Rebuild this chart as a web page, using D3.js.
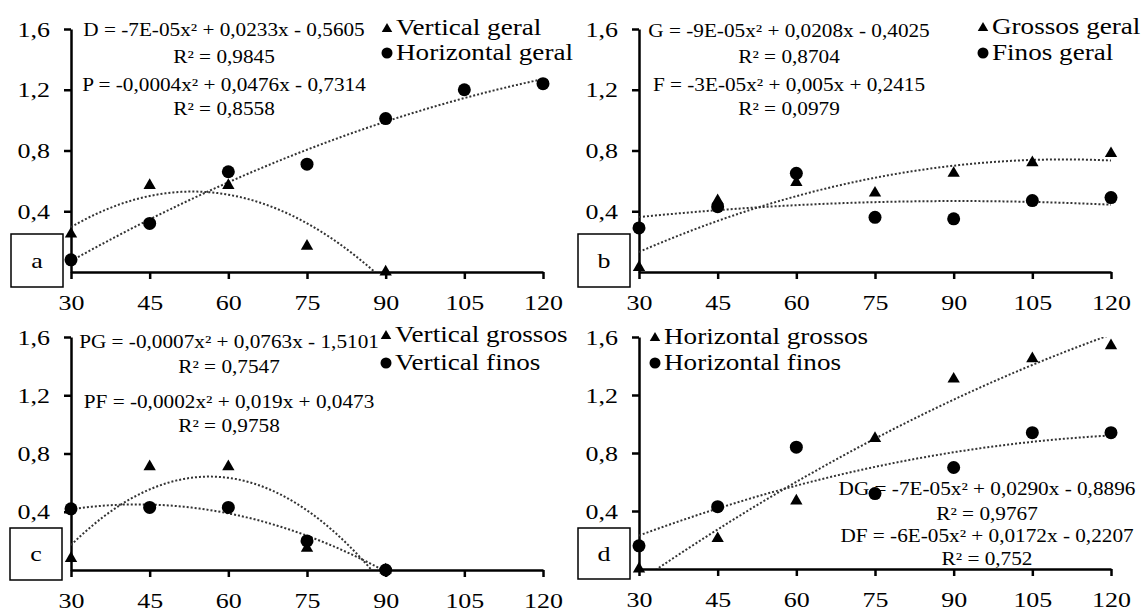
<!DOCTYPE html>
<html>
<head>
<meta charset="utf-8">
<script src="https://cdn.jsdelivr.net/npm/d3@7"></script>
<style>
  body { margin: 0; background: #fff; }
  svg { display: block; font-family: "Liberation Serif", "Times New Roman", "DejaVu Serif", serif; }
</style>
</head>
<body>
<svg id="chart" width="1144" height="612"></svg>
<script>
/* ── data ──────────────────────────────────────────────────── */
const xTicks = [30, 45, 60, 75, 90, 105, 120];
const yTicks = [0.4, 0.8, 1.2, 1.6];
const xShort = [30, 45, 60, 75, 90];
const xLong  = [30, 45, 60, 75, 90, 105, 120];

// a
const verticalGeral   = [0.25, 0.57, 0.57, 0.17, 0.00];
const horizontalGeral = [0.08, 0.32, 0.66, 0.71, 1.01, 1.20, 1.24];
// b
const grossosGeral = [0.03, 0.47, 0.59, 0.52, 0.65, 0.72, 0.78];
const finosGeral   = [0.29, 0.43, 0.65, 0.36, 0.35, 0.47, 0.49];
// c
const verticalGrossos = [0.08, 0.71, 0.71, 0.15, 0.00];
const verticalFinos   = [0.42, 0.43, 0.43, 0.20, 0.00];
// d
const horizontalGrossos = [0.00, 0.21, 0.47, 0.90, 1.31, 1.45, 1.54];
const horizontalFinos   = [0.16, 0.43, 0.84, 0.52, 0.70, 0.94, 0.94];

const eqA = ['D = -7E-05x² + 0,0233x - 0,5605', 'R² = 0,9845',
             'P = -0,0004x² + 0,0476x - 0,7314', 'R² = 0,8558'];
const eqB = ['G = -9E-05x² + 0,0208x - 0,4025', 'R² = 0,8704',
             'F = -3E-05x² + 0,005x + 0,2415', 'R² = 0,0979'];
const eqC = ['PG = -0,0007x² + 0,0763x - 1,5101', 'R² = 0,7547',
             'PF = -0,0002x² + 0,019x + 0,0473', 'R² = 0,9758'];
const eqD = ['DG = -7E-05x² + 0,0290x - 0,8896', 'R² = 0,9767',
             'DF = -6E-05x² + 0,0172x - 0,2207', 'R² = 0,752'];

/* ── layout of the four panels ─────────────────────────────── */
const panels = [
  { id: 'a', x0: 71,  x1: 543,  yb: 272, yt: 29,
    series: [ { name: 'Vertical geral',   shape: 'tri', xs: xShort, ys: verticalGeral },
              { name: 'Horizontal geral', shape: 'dot', xs: xLong,  ys: horizontalGeral } ],
    eq: eqA, eqX: 224, eqY: [36, 63, 91, 115],
    legX: 387, legY: [28, 53], box: [11, 234, 52, 53] },
  { id: 'b', x0: 639, x1: 1111, yb: 272, yt: 29,
    series: [ { name: 'Grossos geral', shape: 'tri', xs: xLong, ys: grossosGeral },
              { name: 'Finos geral',   shape: 'dot', xs: xLong, ys: finosGeral } ],
    eq: eqB, eqX: 789, eqY: [37, 63, 91, 115],
    legX: 983, legY: [27, 53], box: [578, 234, 52, 53] },
  { id: 'c', x0: 71,  x1: 543,  yb: 570, yt: 337,
    series: [ { name: 'Vertical grossos', shape: 'tri', xs: xShort, ys: verticalGrossos },
              { name: 'Vertical finos',   shape: 'dot', xs: xShort, ys: verticalFinos } ],
    eq: eqC, eqX: 229, eqY: [348, 373, 408, 432],
    legX: 386, legY: [335, 363], box: [10, 528, 52, 52] },
  { id: 'd', x0: 639, x1: 1111, yb: 569, yt: 337,
    series: [ { name: 'Horizontal grossos', shape: 'tri', xs: xLong, ys: horizontalGrossos },
              { name: 'Horizontal finos',   shape: 'dot', xs: xLong, ys: horizontalFinos } ],
    eq: eqD, eqX: 987, eqY: [495, 520, 542, 565],
    legX: 655, legY: [337, 363], box: [578, 528, 52, 51] }
];

// the source picture is stretched sideways, so the type is too
const SX = 1.18;

/* least squares 2nd-order fit (what the spreadsheet trendline does) */
function quadFit(xs, ys) {
  const S = k => d3.sum(xs, x => x ** k);
  const T = k => d3.sum(xs, (x, i) => ys[i] * x ** k);
  const m = [[S(4), S(3), S(2), T(2)],
             [S(3), S(2), S(1), T(1)],
             [S(2), S(1), xs.length, T(0)]];
  for (let i = 0; i < 3; i++) {
    for (let j = i + 1; j < 3; j++) {
      const f = m[j][i] / m[i][i];
      for (let k = i; k < 4; k++) m[j][k] -= f * m[i][k];
    }
  }
  const c = [0, 0, 0];
  for (let i = 2; i >= 0; i--) {
    let s = m[i][3];
    for (let k = i + 1; k < 3; k++) s -= m[i][k] * c[k];
    c[i] = s / m[i][i];
  }
  return x => c[0] * x * x + c[1] * x + c[2];
}

// text placed at (x,y) and widened by SX
function putText(sel, x, y) {
  return sel.attr('x', 0).attr('y', 0)
    .attr('transform', `translate(${x},${y}) scale(${SX},1)`);
}

const svg = d3.select('#chart');
svg.append('rect').attr('width', 1144).attr('height', 612).attr('fill', '#fff');

const fmt = d => d.toFixed(1).replace('.', ',');
const triangle = d3.symbol().type(d3.symbolTriangle).size(66);

panels.forEach(p => {
  const x = d3.scaleLinear().domain([30, 120]).range([p.x0, p.x1]);
  const y = d3.scaleLinear().domain([0, 1.6]).range([p.yb, p.yt]);
  const g = svg.append('g').attr('class', 'panel-' + p.id);

  /* axes ------------------------------------------------------- */
  const xa = g.append('g')
    .attr('transform', `translate(0,${p.yb})`)
    .call(d3.axisBottom(x).tickValues(xTicks).tickSize(7).tickSizeOuter(0).tickPadding(15));
  const ya = g.append('g')
    .attr('transform', `translate(${p.x0},0)`)
    .call(d3.axisLeft(y).tickValues(yTicks).tickFormat(fmt).tickSize(7).tickSizeOuter(0).tickPadding(14));
  [xa, ya].forEach(a => {
    a.select('.domain').attr('stroke', '#000').attr('stroke-width', 2.5);
    a.selectAll('.tick line').attr('stroke', '#000').attr('stroke-width', 2.5);
    a.selectAll('.tick text').attr('fill', '#000').attr('font-size', 22)
      .attr('font-family', '"Liberation Serif", "Times New Roman", serif');
  });
  xa.selectAll('.tick text').attr('transform', `scale(${SX},1)`);
  ya.selectAll('.tick text').each(function () {
    const t = d3.select(this);
    const tx = +t.attr('x');
    t.attr('x', 0).attr('transform', `translate(${tx},0) scale(${SX},1)`);
  });

  /* equation labels -------------------------------------------- */
  g.append('g').selectAll('text')
    .data(p.eq)
    .join('text')
      .attr('text-anchor', 'middle')
      .attr('font-size', 18)
      .text(d => d)
      .each(function (d, i) { putText(d3.select(this), p.eqX, p.eqY[i]); });

  /* trendlines ------------------------------------------------- */
  const clipId = 'clip-' + p.id;
  g.append('clipPath').attr('id', clipId)
    .append('rect')
      .attr('x', p.x0).attr('y', p.yt)
      .attr('width', p.x1 - p.x0).attr('height', p.yb - p.yt);
  p.series.forEach(s => {
    const f = quadFit(s.xs, s.ys);
    const lo = d3.min(s.xs), hi = d3.max(s.xs);
    const pts = d3.range(lo, hi + 0.01, 0.5).map(v => [v, f(v)]);
    g.append('path')
      .attr('clip-path', `url(#${clipId})`)
      .attr('d', d3.line().x(d => x(d[0])).y(d => y(d[1]))(pts))
      .attr('fill', 'none')
      .attr('stroke', '#333')
      .attr('stroke-width', 2)
      .attr('stroke-dasharray', '2,2');
  });

  /* markers ---------------------------------------------------- */
  p.series.forEach(s => {
    const pts = s.xs.map((v, i) => [v, s.ys[i]]);
    if (s.shape === 'tri') {
      g.append('g').selectAll('path')
        .data(pts).join('path')
          .attr('d', triangle)
          .attr('transform', d => `translate(${x(d[0])},${y(d[1])})`)
          .attr('fill', '#000');
    } else {
      g.append('g').selectAll('circle')
        .data(pts).join('circle')
          .attr('cx', d => x(d[0]))
          .attr('cy', d => y(d[1]))
          .attr('r', 6.5)
          .attr('fill', '#000');
    }
  });

  /* legend ----------------------------------------------------- */
  const leg = g.append('g');
  p.series.forEach((s, i) => {
    const cy = p.legY[i];
    if (s.shape === 'tri') {
      leg.append('path').attr('d', d3.symbol().type(d3.symbolTriangle).size(48)())
        .attr('transform', `translate(${p.legX},${cy + 1})`).attr('fill', '#000');
    } else {
      leg.append('circle').attr('cx', p.legX).attr('cy', cy).attr('r', 5.5).attr('fill', '#000');
    }
    putText(leg.append('text').attr('font-size', 23).text(s.name), p.legX + 9, cy + 7);
  });

  /* panel letter box ------------------------------------------- */
  const [bx, by, bw, bh] = p.box;
  g.append('rect')
    .attr('x', bx).attr('y', by).attr('width', bw).attr('height', bh)
    .attr('fill', '#fff').attr('stroke', '#000').attr('stroke-width', 1.5);
  putText(g.append('text').attr('text-anchor', 'middle').attr('font-size', 22).text(p.id),
          bx + bw / 2, by + bh / 2 + 7);
});
</script>
</body>
</html>
